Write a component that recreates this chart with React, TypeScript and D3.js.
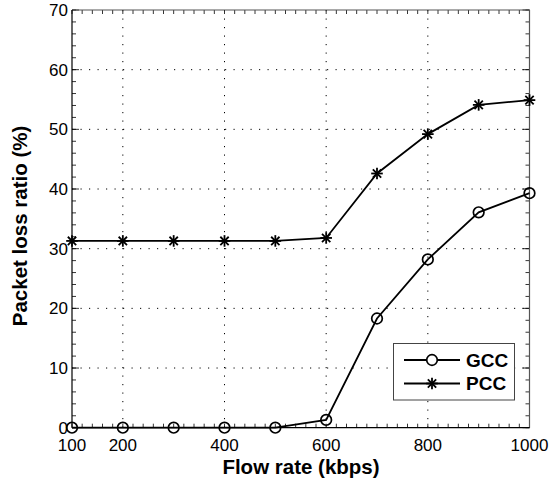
import React from "react";
import * as d3 from "d3";

const flowRates = [100, 200, 300, 400, 500, 600, 700, 800, 900, 1000];
const gccLoss = [0, 0, 0, 0, 0, 1.3, 18.3, 28.2, 36.1, 39.3];
const pccLoss = [31.3, 31.3, 31.3, 31.3, 31.3, 31.8, 42.6, 49.2, 54.1, 54.9];
const xTicks = [100, 200, 400, 600, 800, 1000];
const xGrid = [200, 400, 600, 800];
const yTicks = [0, 10, 20, 30, 40, 50, 60, 70];
const seriesNames = ["GCC", "PCC"];

const W = 550, H = 484;
const L = 72, R = 529.5, T = 10, B = 427.7;
const FONT = "'Liberation Sans', Arial, Helvetica, sans-serif";

function Star({ x, y, s = 5.8 }: { x: number; y: number; s?: number }) {
  const d = s * 0.72;
  return (
    <g stroke="#000" strokeWidth={1.8}>
      <line x1={x - s} y1={y} x2={x + s} y2={y} />
      <line x1={x} y1={y - s} x2={x} y2={y + s} />
      <line x1={x - d} y1={y - d} x2={x + d} y2={y + d} />
      <line x1={x - d} y1={y + d} x2={x + d} y2={y - d} />
    </g>
  );
}

export default function App() {
  const x = d3.scaleLinear().domain([100, 1000]).range([L, R]);
  const y = d3.scaleLinear().domain([0, 70]).range([B, T]);
  const line = d3
    .line<number>()
    .x((_, i) => x(flowRates[i]))
    .y((v) => y(v));
  const xMinor = d3.range(100, 1000.1, 20);
  const yMinor = d3.range(0, 70.1, 2);
  const tl = 4;
  return (
    <svg width={W} height={H} style={{ position: "absolute", left: 0, top: 0, background: "#fff" }}>
      <rect x={0} y={0} width={W} height={H} fill="#fff" />
      {/* grid */}
      <g stroke="#000" strokeWidth={1} strokeDasharray="1.2,7.3">
        {xGrid.map((v) => (
          <line key={"gx" + v} x1={x(v)} x2={x(v)} y1={B} y2={T} />
        ))}
        {yTicks.slice(1, -1).map((v) => (
          <line key={"gy" + v} x1={L} x2={R} y1={y(v)} y2={y(v)} />
        ))}
      </g>
      {/* minor ticks */}
      <g stroke="#000" strokeWidth={0.8}>
        {xMinor.map((v) => (
          <g key={"mx" + v}>
            <line x1={x(v)} x2={x(v)} y1={B} y2={B - tl} />
            <line x1={x(v)} x2={x(v)} y1={T} y2={T + tl} />
          </g>
        ))}
        {yMinor.map((v) => (
          <g key={"my" + v}>
            <line x1={L} x2={L + tl} y1={y(v)} y2={y(v)} />
            <line x1={R} x2={R - tl} y1={y(v)} y2={y(v)} />
          </g>
        ))}
        {yTicks.map((v) => (
          <g key={"My" + v}>
            <line x1={L} x2={L + 7} y1={y(v)} y2={y(v)} />
            <line x1={R} x2={R - 7} y1={y(v)} y2={y(v)} />
          </g>
        ))}
      </g>
      {/* axes box */}
      <line x1={L} x2={R} y1={T} y2={T} stroke="#555" strokeWidth={1.2} />
      <line x1={R} x2={R} y1={T} y2={B} stroke="#555" strokeWidth={1.2} />
      <line x1={L} x2={L} y1={T} y2={B} stroke="#000" strokeWidth={1.2} />
      <line x1={L} x2={R} y1={B} y2={B} stroke="#000" strokeWidth={1.2} />
      {/* lines */}
      <path d={line(gccLoss) || ""} fill="none" stroke="#000" strokeWidth={1.8} />
      <path d={line(pccLoss) || ""} fill="none" stroke="#000" strokeWidth={1.8} />
      {gccLoss.map((v, i) => (
        <circle key={"c" + i} cx={x(flowRates[i])} cy={y(v)} r={5.3} fill="none" stroke="#000" strokeWidth={1.7} />
      ))}
      {pccLoss.map((v, i) => (
        <Star key={"s" + i} x={x(flowRates[i])} y={y(v)} />
      ))}
      {/* tick labels */}
      <g fontFamily={FONT} fontSize={17} fill="#000">
        {xTicks.map((v) => (
          <text key={"xt" + v} x={x(v)} y={451} textAnchor="middle">
            {v}
          </text>
        ))}
        {yTicks.map((v) => (
          <text key={"yt" + v} x={68} y={y(v) + 6} textAnchor="end">
            {v}
          </text>
        ))}
      </g>
      <text x={301} y={474} textAnchor="middle" fontFamily={FONT} fontWeight="bold" fontSize={20.5}>
        Flow rate (kbps)
      </text>
      <text
        transform={`translate(27,226) rotate(-90)`}
        textAnchor="middle"
        fontFamily={FONT}
        fontWeight="bold"
        fontSize={20.5}
      >
        Packet loss ratio (%)
      </text>
      {/* legend */}
      <g>
        <rect x={393.5} y={343.5} width={121} height={56.5} fill="#fff" stroke="#444" strokeWidth={1} />
        {seriesNames.map((name, i) => {
          const cy = 360 + i * 23.5;
          return (
            <g key={name}>
              <line x1={404} x2={460} y1={cy} y2={cy} stroke="#000" strokeWidth={1.8} />
              {i === 0 ? (
                <circle cx={432} cy={cy} r={5.3} fill="#fff" stroke="#000" strokeWidth={1.7} />
              ) : (
                <Star x={432} y={cy} />
              )}
              <text x={466} y={cy + 6.5} fontFamily={FONT} fontWeight="bold" fontSize={19}>
                {name}
              </text>
            </g>
          );
        })}
      </g>
    </svg>
  );
}
